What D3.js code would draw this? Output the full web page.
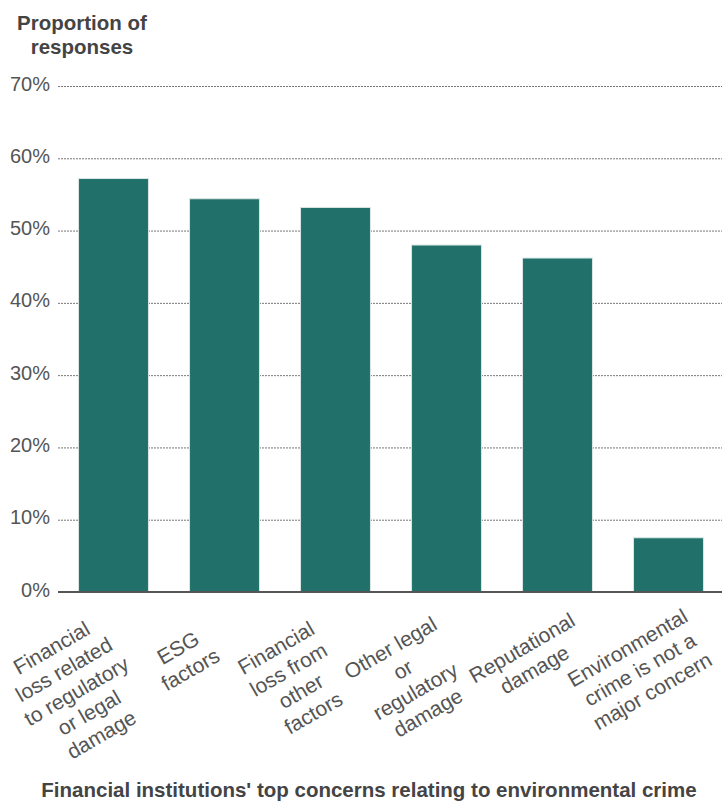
<!DOCTYPE html>
<html>
<head>
<meta charset="utf-8">
<script src="https://cdn.jsdelivr.net/npm/d3@7"></script>
<style>
  html, body { margin: 0; padding: 0; background: #fff; }
  svg { display: block; font-family: "Liberation Sans", Arial, sans-serif; }
</style>
</head>
<body>
<svg id="chart" width="722" height="801"></svg>
<script>
// Survey categories and the share of respondents naming each one
const categories = [
  "Financial loss related to regulatory or legal damage",
  "ESG factors",
  "Financial loss from other factors",
  "Other legal or regulatory damage",
  "Reputational damage",
  "Environmental crime is not a major concern"
];
// Wrapped axis labels, one array of lines per category
const categoryLines = [
  ["Financial", "loss related", "to regulatory", "or legal", "damage"],
  ["ESG", "factors"],
  ["Financial", "loss from", "other", "factors"],
  ["Other legal", "or", "regulatory", "damage"],
  ["Reputational", "damage"],
  ["Environmental", "crime is not a", "major concern"]
];
const shares = [57.2, 54.4, 53.2, 48.0, 46.2, 7.5];
const yTicks = [0, 10, 20, 30, 40, 50, 60, 70];
const yTitle = ["Proportion of", "responses"];
const xTitle = "Financial institutions' top concerns relating to environmental crime";

(function draw() {
  const svg = d3.select("#chart");
  const plotLeft = 58, plotRight = 724, plotTop = 86, plotBottom = 592;

  const x = d3.scaleBand().domain(categories).range([plotLeft, plotRight]).paddingInner(0.37).paddingOuter(0.185);
  const y = d3.scaleLinear().domain([0, 70]).range([plotBottom, plotTop]);

  const textColor = "#555";

  // Horizontal dashed gridlines with percentage labels
  const yAxis = d3.axisLeft(y).tickValues(yTicks).tickSize(-(722 - plotLeft)).tickFormat(d => d + "%");
  const gy = svg.append("g").attr("transform", `translate(${plotLeft},0)`).call(yAxis);
  gy.select(".domain").remove();
  gy.selectAll(".tick line")
    .attr("stroke", "#777")
    .attr("stroke-width", 1)
    .attr("stroke-dasharray", "2,1");
  gy.selectAll(".tick text")
    .attr("x", -8)
    .attr("dy", null)
    .attr("y", 4)
    .attr("fill", textColor)
    .style("font-size", "20px")
    .style("font-family", '"Liberation Sans", Arial, sans-serif')
    .attr("text-anchor", "end");

  // Bars
  svg.append("g").selectAll("rect")
    .data(shares)
    .join("rect")
    .attr("x", (d, i) => x(categories[i]))
    .attr("width", x.bandwidth())
    .attr("y", d => y(d))
    .attr("height", d => y(0) - y(d))
    .attr("fill", "#21706a")
    .attr("stroke", "#d9e6e4")
    .attr("stroke-width", 1);

  // Baseline
  svg.append("line")
    .attr("x1", plotLeft).attr("x2", 722)
    .attr("y1", y(0)).attr("y2", y(0))
    .attr("stroke", "#555").attr("stroke-width", 2);

  // Rotated, centred multi-line category labels; taller blocks sit further left,
  // wider blocks slightly further right
  const lineH = 25;
  const labels = svg.append("g").selectAll("g")
    .data(categories)
    .join("g");
  labels.each(function(d, i) {
    const g = d3.select(this);
    const texts = categoryLines[i].map((line, j) =>
      g.append("text")
        .attr("x", 0)
        .attr("y", j * lineH + 6)
        .attr("text-anchor", "middle")
        .attr("fill", textColor)
        .style("font-size", "21px")
        .text(line));
    const w = d3.max(texts, t => t.node().getComputedTextLength());
    const n = categoryLines[i].length;
    const ax = x(d) + x.bandwidth() / 2 - 21 - 0.35 * n * lineH + 0.2 * (w - 100);
    g.attr("transform", `translate(${ax},649) rotate(-30)`);
  });

  // Y-axis title
  svg.append("g").selectAll("text")
    .data(yTitle)
    .join("text")
    .attr("x", 82)
    .attr("y", (d, i) => 30 + i * 24)
    .attr("text-anchor", "middle")
    .attr("fill", "#444")
    .style("font-size", "20.5px")
    .style("font-weight", "bold")
    .text(d => d);

  // X-axis title
  svg.append("text")
    .attr("x", 369)
    .attr("y", 797)
    .attr("text-anchor", "middle")
    .attr("fill", "#444")
    .style("font-size", "20.5px")
    .style("font-weight", "bold")
    .text(xTitle);
})();
</script>
</body>
</html>
